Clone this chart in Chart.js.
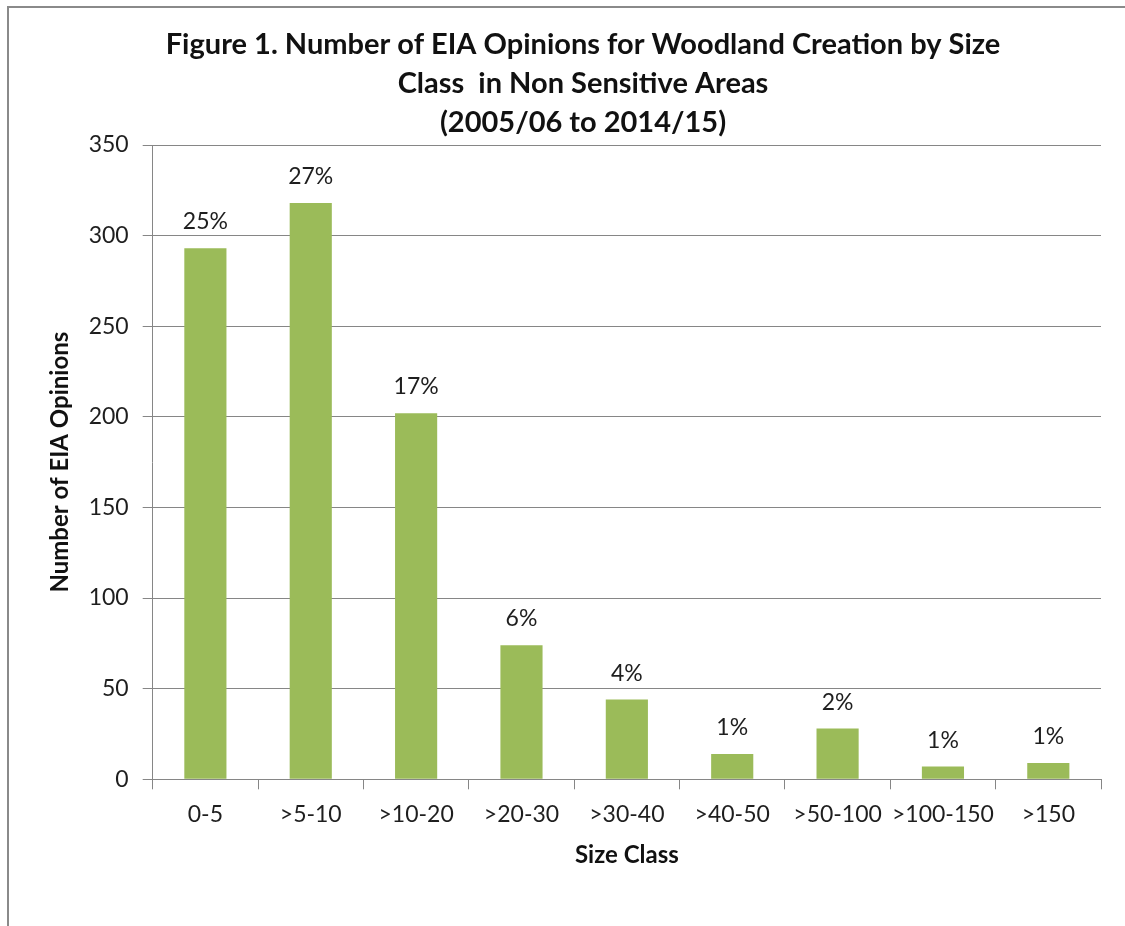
<!DOCTYPE html>
<html>
<head>
<meta charset="utf-8">
<script src="https://cdn.jsdelivr.net/npm/chart.js@4/dist/chart.umd.min.js"></script>
<style>
  body { margin: 0; background: #fff; overflow: hidden; }
  #frame { position: absolute; left: 7px; top: 6px; width: 1300px; height: 1100px;
           border-left: 2px solid #8a8a8a; border-top: 2px solid #8a8a8a; }
  #eia-graph { position: absolute; left: 0; top: 0; }
</style>
</head>
<body>
<div id="frame"></div>
<canvas id="eia-graph" width="1125" height="926"></canvas>
<script>
// size classes (ha) along the x axis
const sizeClasses = ['0-5', '>5-10', '>10-20', '>20-30', '>30-40', '>40-50', '>50-100', '>100-150', '>150'];
// number of EIA opinions per class
const opinions = [293, 318, 202, 74, 44, 14, 28, 7, 9];
// share of all opinions, shown above each bar
const shares = [25, 27, 17, 6, 4, 1, 2, 1, 1];

const titleLines = [
    'Figure 1. Number of EIA Opinions for Woodland Creation by Size',
    'Class  in Non Sensitive Areas',
    '(2005/06 to 2014/15)'
];

const fontName = 'Lato, "Open Sans", sans-serif';
const gridGrey = '#868686';
const textCol = '#1e1e1e';

// left padding moves the chart title centre to where it sits in the original
const padLeft = 65;

// writes the percentage above every bar
const shareLabels = {
    id: 'shareLabels',
    afterDatasetsDraw(chart) {
        const c = chart.ctx;
        const meta = chart.getDatasetMeta(0);
        c.save();
        c.font = '23px ' + fontName;
        c.fillStyle = textCol;
        c.textAlign = 'center';
        c.textBaseline = 'alphabetic';
        meta.data.forEach(function(bar, i) {
            c.fillText(shares[i] + '%', bar.x, bar.y - 19);
        });
        c.restore();
    }
};

const ctx = document.getElementById('eia-graph');

new Chart(ctx, {
    type: 'bar',
    data: {
        labels: sizeClasses,
        datasets: [{
            label: 'EIA Opinions',
            data: opinions,
            backgroundColor: '#9bbb59',
            borderWidth: 0,
            categoryPercentage: 0.8,
            barPercentage: 0.5
        }]
    },
    options: {
        responsive: false,
        animation: false,
        layout: {
            padding: { left: padLeft, right: 24, top: 0, bottom: 0 }
        },
        plugins: {
            legend: { display: false },
            tooltip: { enabled: false },
            title: {
                display: true,
                text: titleLines,
                color: '#111',
                font: { family: fontName, size: 29, weight: 'bold', lineHeight: 39 / 29 },
                padding: { top: 25, bottom: 3 }
            }
        },
        scales: {
            x: {
                afterFit: function(scale) { scale.height = 146.7; },
                grid: {
                    offset: true,
                    drawOnChartArea: false,
                    drawTicks: true,
                    tickLength: 10,
                    color: gridGrey
                },
                border: { color: gridGrey, width: 1 },
                ticks: {
                    color: textCol,
                    padding: 11,
                    maxRotation: 0,
                    autoSkip: false,
                    font: { family: fontName, size: 23 }
                },
                title: {
                    display: true,
                    text: 'Size Class',
                    color: '#111',
                    font: { family: fontName, size: 24, weight: 'bold' },
                    padding: { top: 0, bottom: 56.6 }
                }
            },
            y: {
                min: 0,
                max: 350,
                afterFit: function(scale) { scale.width = 152.7 - padLeft; },
                grid: {
                    color: gridGrey,
                    tickLength: 10
                },
                border: { color: gridGrey, width: 1 },
                ticks: {
                    stepSize: 50,
                    color: textCol,
                    padding: 14,
                    font: { family: fontName, size: 23 }
                },
                title: {
                    display: true,
                    text: 'Number of EIA Opinions',
                    color: '#111',
                    font: { family: fontName, size: 24, weight: 'bold' },
                    // sits left of the scale box, so the offset is negative
                    padding: { top: -19.4, bottom: 0 }
                }
            }
        }
    },
    plugins: [shareLabels]
});
</script>
</body>
</html>
